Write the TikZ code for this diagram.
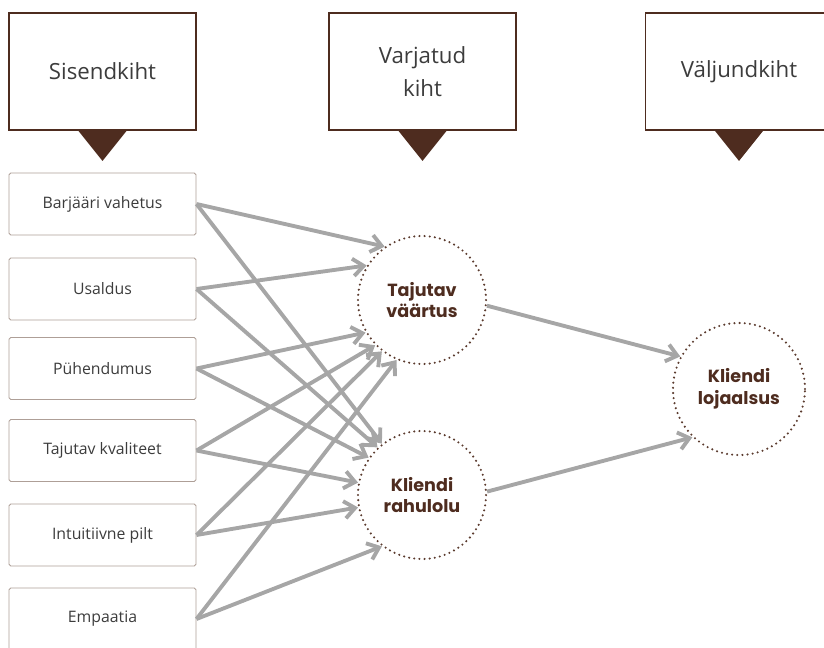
\documentclass[tikz,border=0pt]{standalone}
\usepackage{fontspec}
\setmainfont{Open Sans}
\newfontfamily\circfont{Poppins}
\usetikzlibrary{arrows.meta}
\definecolor{brn}{HTML}{4E2C1F}
\definecolor{dotbrn}{HTML}{5B3B2E}
\definecolor{boxline}{HTML}{AE9F97}
\definecolor{arrgray}{HTML}{A6A6A6}
\definecolor{txtgray}{HTML}{3C3C3C}

\begin{document}
\begin{tikzpicture}[x=0.03cm,y=-0.03cm]
\tikzstyle{layer}=[draw=brn, line width=1.6pt, minimum width=5.61cm, minimum height=3.51cm, align=center, text=txtgray, font=\fontsize{19}{28}\selectfont, inner sep=0pt]
\tikzstyle{inbox}=[draw=boxline, line width=0.8pt, rounded corners=1.5pt, minimum width=5.61cm, minimum height=1.86cm, text=txtgray, font=\fontsize{13.5}{16}\selectfont]
\tikzstyle{unit}=[circle, draw=dotbrn, line width=2pt, line cap=round, dash pattern=on 0pt off 4.4pt, minimum size=3.84cm, inner sep=0pt, align=center, text=brn, font=\circfont\bfseries\fontsize{15}{18.5}\selectfont]
\tikzstyle{link}=[draw=arrgray, line width=3.3pt, -{Straight Barb[length=0.32cm,width=0.52cm]}]
\clip (0,0) rectangle (824,647);
% layer headers
\node[layer] (sis) at (102.5,71.5) {Sisendkiht};
\node[layer] (var) at (422.5,71.5) {Varjatud\\kiht};
\node[layer] (val) at (739,71.5) {Väljundkiht};
\fill[brn] (sis.south) ++(-24,0) -- ++(48,0) -- ++(-24,30) -- cycle;
\fill[brn] (var.south) ++(-24,0) -- ++(48,0) -- ++(-24,30) -- cycle;
\fill[brn] (val.south) ++(-24,0) -- ++(48,0) -- ++(-24,30) -- cycle;
% input boxes
\node[inbox] (bar) at (102.5,204) {Barjääri vahetus};
\node[inbox] (usa) at (102.5,289) {Usaldus};
\node[inbox] (pyh) at (102.5,368.5) {Pühendumus};
\node[inbox] (kva) at (102.5,450.5) {Tajutav kvaliteet};
\node[inbox] (pil) at (102.5,535) {Intuitiivne pilt};
\node[inbox] (emp) at (102.5,619) {Empaatia};
% hidden and output units
\node[unit] (vaa) at (422,300) {Tajutav\\väärtus};
\node[unit] (rah) at (422,495) {Kliendi\\rahulolu};
\node[unit, minimum size=3.96cm] (loj) at (739,389) {Kliendi\\lojaalsus};
% links
\draw[link] (bar.east) -- (vaa.125);
\draw[link] (bar.east) -- (rah.128);
\draw[link] (usa.east) -- (vaa.148);
\draw[link] (usa.east) -- (rah.133);
\draw[link] (pyh.east) -- (vaa.210);
\draw[link] (pyh.east) -- (rah.145);
\draw[link] (kva.east) -- (vaa.224);
\draw[link] (kva.east) -- (rah.169);
\draw[link] (pil.east) -- (vaa.232);
\draw[link] (pil.east) -- (rah.191);
\draw[link] (emp.east) -- (vaa.247);
\draw[link] (emp.east) -- (rah.232);
\draw[link] (vaa.355) -- (loj.151);
\draw[link] (rah.3) -- (loj.226);
\end{tikzpicture}
\end{document}
